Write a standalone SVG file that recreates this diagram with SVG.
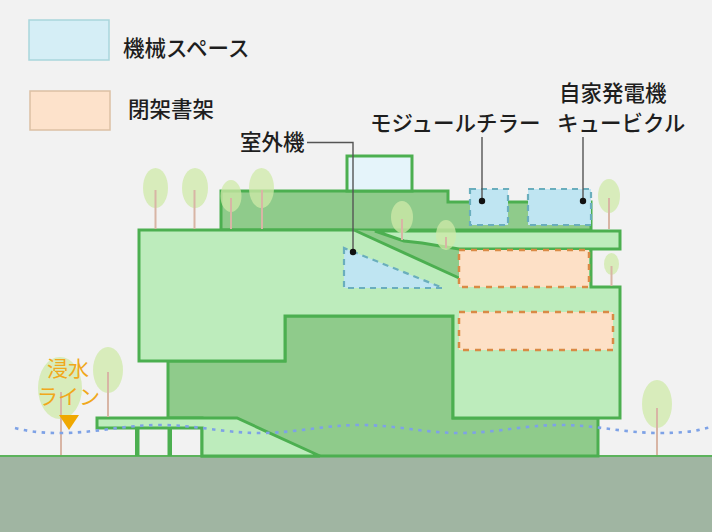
<svg xmlns="http://www.w3.org/2000/svg" width="712" height="532" viewBox="0 0 712 532">
  <defs>
    <style>
      .lbl { font-family: "Noto Sans CJK JP", "Noto Sans", sans-serif; font-size: 21.5px; font-weight: 500; fill: #1e1e1e; }
      .flood-lbl { font-family: "Noto Sans CJK JP", "Noto Sans", sans-serif; font-size: 21px; fill: #f0a81c; }
      .light { fill: #bdecbc; }
      .dark { fill: #8fcb8b; }
      .edge { fill: none; stroke: #4caf50; stroke-width: 3; stroke-linejoin: miter; }
      .edge-f { stroke: #4caf50; stroke-width: 3; stroke-linejoin: miter; }
      .mech { fill: #bfe5f2; stroke: #6aaebd; stroke-width: 2.2; stroke-dasharray: 6 5; }
      .stack { fill: #fde0c6; stroke: #d98a45; stroke-width: 2.5; stroke-dasharray: 6 6; }
      .leader { fill: none; stroke: #555; stroke-width: 1.4; }
      .crown { fill: #cfe9a8; opacity: 0.75; }
      .trunk { stroke: #d8b5a5; stroke-width: 2; }
    </style>
  </defs>

  <!-- sky -->
  <rect x="0" y="0" width="712" height="532" fill="#f2f2f2"/>

  <!-- legend -->
  <g id="legend-mech">
    <rect x="29" y="20" width="80" height="40" fill="#d5eef6" stroke="#a9d6dc" stroke-width="1.5"/>
    <text class="lbl" x="123" y="56">機械スペース</text>
  </g>
  <g id="legend-stack">
    <rect x="30" y="91" width="80" height="39" fill="#fde2cb" stroke="#dcc0a4" stroke-width="1.5"/>
    <text class="lbl" x="128" y="117">閉架書架</text>
  </g>

  <!-- ground -->
  <g id="ground">
    <rect x="0" y="456" width="712" height="76" fill="#a0b5a2"/>
    <line x1="0" y1="456" x2="712" y2="456" stroke="#5cb35c" stroke-width="2"/>
  </g>

  <!-- building -->
  <g id="upper-block">
    <polygon class="dark edge-f" points="221,230 221,191 448,191 448,202 591,202 591,230"/>
    <rect x="347" y="156" width="65" height="35" fill="#e5f4fa" class="edge-f"/>
  </g>

  <g id="lower-block">
    <polygon class="dark edge-f" points="168,361 285,361 285,316 453,316 453,418 598,418 598,456 202,456 202,418 168,418"/>
  </g>

  <g id="main-block">
    <polygon class="light" points="139,230 354,230 459,278 459,249 591,249 591,287 620,287 620,418 453,418 453,316 285,316 285,361 139,361"/>
    <polyline class="edge" points="354,230 139,230 139,361 285,361 285,316 453,316 453,418 620,418 620,287 591,287 591,249"/>
    <!-- stepped seating under the terrace -->
    <polygon class="dark" points="354,230 375,231 404,241 422,243 440,246 459,249 459,278"/>
    <line class="edge" x1="354" y1="230" x2="459" y2="278"/>
  </g>

  <g id="terrace">
    <polygon class="light edge-f" points="375,231 620,231 620,249 459,249 440,246 422,243 404,241"/>
  </g>

  <g id="entrance">
    <polygon class="light edge-f" points="97,418 237,418 320,456 202,456 202,428 97,428"/>
    <rect x="135" y="428" width="4.5" height="28" fill="#4caf50"/>
    <rect x="167.5" y="428" width="4.5" height="28" fill="#4caf50"/>
  </g>

  <!-- mechanical spaces -->
  <g id="chiller">
    <rect class="mech" x="470" y="189" width="38" height="36"/>
  </g>
  <g id="generator">
    <rect class="mech" x="528" y="189" width="63" height="36"/>
  </g>
  <g id="outdoor-unit">
    <polygon class="mech" points="344,248 344,288 443,288"/>
  </g>

  <!-- closed stacks -->
  <g id="stack-upper">
    <rect class="stack" x="459" y="250" width="130" height="37"/>
  </g>
  <g id="stack-lower">
    <rect class="stack" x="459" y="312" width="154" height="38"/>
  </g>

  <!-- trees -->
  <g id="trees">
    <ellipse class="crown" cx="155.5" cy="188" rx="12.5" ry="20"/>
    <line class="trunk" x1="155.5" y1="190" x2="155.5" y2="229"/>
    <ellipse class="crown" cx="195" cy="188" rx="13" ry="20"/>
    <line class="trunk" x1="194.5" y1="190" x2="194.5" y2="229"/>
    <ellipse class="crown" cx="231" cy="196" rx="10.5" ry="16"/>
    <line class="trunk" x1="231" y1="198" x2="231" y2="229"/>
    <ellipse class="crown" cx="261.5" cy="188" rx="12.5" ry="20"/>
    <line class="trunk" x1="262" y1="190" x2="262" y2="229"/>
    <ellipse class="crown" cx="402" cy="217" rx="11" ry="16"/>
    <line class="trunk" x1="402" y1="219" x2="402" y2="240"/>
    <ellipse class="crown" cx="446" cy="235" rx="10" ry="15"/>
    <line class="trunk" x1="446" y1="237" x2="446" y2="248"/>
    <ellipse class="crown" cx="609" cy="196" rx="11" ry="17"/>
    <line class="trunk" x1="609" y1="198" x2="609" y2="229"/>
    <ellipse class="crown" cx="611.5" cy="264" rx="7.5" ry="11"/>
    <line class="trunk" x1="611.5" y1="266" x2="611.5" y2="286"/>
    <ellipse class="crown" cx="657" cy="404" rx="15" ry="24"/>
    <line class="trunk" x1="657" y1="408" x2="657" y2="455"/>
    <ellipse class="crown" cx="108" cy="370" rx="15" ry="23"/>
    <line class="trunk" x1="108" y1="372" x2="108" y2="417"/>
    <ellipse class="crown" cx="60" cy="388" rx="22" ry="31"/>
    <line class="trunk" x1="61" y1="392" x2="61" y2="455"/>
  </g>

  <!-- flood level -->
  <g id="flood-line">
    <path d="M15,428 C30,432 45,433 60,433 C96,433 124,425 160,425 S224,433 260,433 S324,425 360,425 S424,433 460,433 S524,425 560,425 S624,433 660,433 S700,429 712,427" fill="none" stroke="#7ea2e6" stroke-width="2.6" stroke-dasharray="3.5 5.5"/>
    <text class="flood-lbl" x="47" y="376">浸水</text>
    <text class="flood-lbl" x="37" y="404">ライン</text>
    <polygon points="59,415 79,415 69,430" fill="#f0a800"/>
  </g>

  <!-- callout labels -->
  <g id="label-outdoor">
    <text class="lbl" x="240" y="150">室外機</text>
  </g>
  <g id="label-chiller">
    <text class="lbl" x="370" y="131">モジュールチラー</text>
  </g>
  <g id="label-generator">
    <text class="lbl" x="559" y="101">自家発電機</text>
    <text class="lbl" x="557" y="131">キュービクル</text>
  </g>

  <!-- connectors -->
  <g id="connectors">
    <polyline class="leader" points="307,142.5 353,142.5 353,252"/>
    <circle cx="353" cy="252" r="3.2" fill="#111"/>
    <line class="leader" x1="482" y1="137" x2="482" y2="201"/>
    <circle cx="482" cy="201" r="3.2" fill="#111"/>
    <line class="leader" x1="583" y1="137" x2="583" y2="201"/>
    <circle cx="583" cy="201" r="3.2" fill="#111"/>
  </g>
</svg>
